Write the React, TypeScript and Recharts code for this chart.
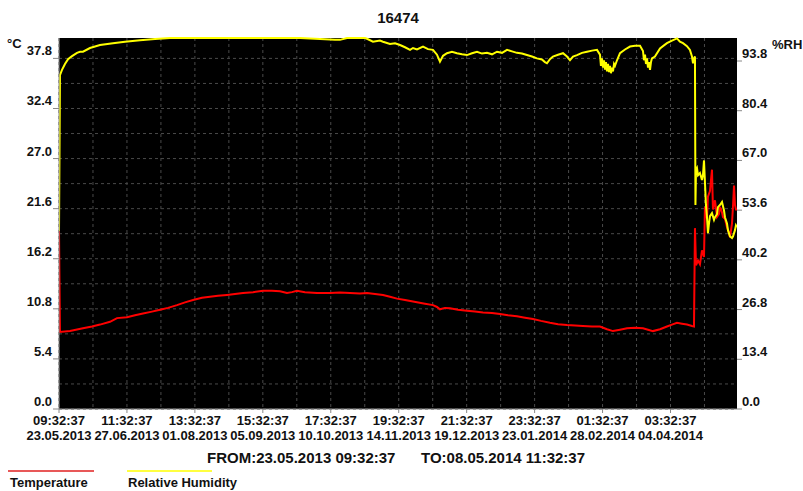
import React from "react";
import {
  CartesianGrid,
  Line,
  LineChart,
  XAxis,
  YAxis,
} from "recharts";

// hours since 23.05.2013 09:32:37
const START_MS = Date.UTC(2013, 4, 23, 9, 32, 37);
const END_HOURS = 8402;

const timeTicks = [0, 842, 1684, 2526, 3368, 4210, 5052, 5894, 6736, 7578];
const timeGrid = [
  0, 421, 842, 1263, 1684, 2105, 2526, 2947, 3368, 3789, 4210, 4631, 5052,
  5473, 5894, 6315, 6736, 7157, 7578, 7999,
];
const tempTicks = [0, 5.4, 10.8, 16.2, 21.6, 27.0, 32.4, 37.8];
const tempGrid = [
  0, 2.7, 5.4, 8.1, 10.8, 13.5, 16.2, 18.9, 21.6, 24.3, 27.0, 29.7, 32.4, 35.1,
  37.8,
];
const rhTicks = [0, 13.4, 26.8, 40.2, 53.6, 67.0, 80.4, 93.8];

const tempHours = [
  0, 12, 136, 297, 409, 508, 632, 719, 843, 942, 1041, 1152, 1252, 1351, 1462,
  1561, 1661, 1772, 1871, 1970, 2082, 2181, 2280, 2404, 2528, 2639, 2739, 2825,
  2887, 2949, 3048, 3197, 3358, 3482, 3606, 3730, 3817, 3916, 4015, 4102, 4189,
  4288, 4436, 4535, 4635, 4684, 4721, 4783, 4845, 4944, 5056, 5155, 5254, 5366,
  5465, 5564, 5675, 5775, 5874, 5973, 6084, 6184, 6295, 6394, 6493, 6605, 6704,
  6791, 6865, 6952, 7039, 7138, 7237, 7299, 7361, 7448, 7534, 7596, 7658, 7720,
  7782, 7844, 7869, 7881, 7894, 7919, 7943, 7968, 7993, 8005, 8030, 8042, 8067,
  8092, 8104, 8129, 8154, 8178, 8191, 8216, 8228, 8253, 8278, 8303, 8315, 8340,
  8352, 8365, 8377, 8389, 8402,
];
const tempC = [
  19.3, 8.3, 8.4, 8.7, 8.9, 9.1, 9.4, 9.8, 9.9, 10.1, 10.3, 10.5, 10.7, 10.9,
  11.2, 11.5, 11.75, 12.0, 12.1, 12.2, 12.3, 12.4, 12.5, 12.6, 12.75, 12.75,
  12.7, 12.5, 12.6, 12.75, 12.6, 12.5, 12.5, 12.55, 12.5, 12.45, 12.5, 12.4,
  12.3, 12.1, 11.9, 11.75, 11.5, 11.35, 11.2, 11.0, 10.75, 10.9, 10.85, 10.7,
  10.6, 10.5, 10.4, 10.35, 10.25, 10.1, 10.0, 9.85, 9.7, 9.5, 9.3, 9.15, 9.05,
  9.0, 8.95, 8.9, 8.9, 8.6, 8.4, 8.55, 8.7, 8.75, 8.7, 8.55, 8.4, 8.6, 8.9, 9.1,
  9.3, 9.2, 9.1, 8.95, 8.9, 19.5, 15.5, 16.0, 15.6, 17.1, 16.4, 21.8, 20.5,
  22.9, 23.5, 25.8, 21.5, 22.5, 20.7, 21.0, 21.8, 21.2, 20.7, 20.5, 19.6, 19.0,
  18.5, 20.0, 21.8, 24.1, 22.0, 21.5, 21.5,
];

const rhHours = [
  0, 12, 37, 74, 112, 161, 223, 260, 297, 384, 508, 669, 818, 1004, 1190, 1376,
  2986, 3420, 3482, 3569, 3792, 3817, 3891, 3978, 4015, 4102, 4164, 4226, 4288,
  4350, 4387, 4436, 4511, 4573, 4635, 4684, 4721, 4759, 4808, 4870, 4932, 4994,
  5056, 5118, 5180, 5242, 5304, 5366, 5428, 5490, 5552, 5614, 5675, 5737, 5799,
  5861, 5923, 5985, 6022, 6047, 6084, 6121, 6184, 6246, 6295, 6332, 6370, 6419,
  6481, 6543, 6605, 6667, 6704, 6716, 6729, 6741, 6754, 6766, 6778, 6791, 6803,
  6816, 6828, 6840, 6853, 6865, 6878, 6890, 6915, 6952, 7014, 7076, 7138, 7200,
  7237, 7249, 7262, 7274, 7287, 7299, 7311, 7324, 7336, 7348, 7385, 7448, 7497,
  7534, 7596, 7658, 7695, 7733, 7782, 7819, 7844, 7857, 7869, 7881, 7887, 7894,
  7906, 7919, 7943, 7968, 7980, 7993, 8005, 8017, 8030, 8042, 8055, 8067, 8092,
  8117, 8129, 8154, 8166, 8191, 8216, 8241, 8253, 8278, 8290, 8315, 8340, 8352,
  8377, 8389, 8402,
];
const rhPct = [
  48.0, 90.0, 91.4, 93.0, 94.3, 95.1, 96.0, 96.3, 96.3, 97.3, 98.1, 98.6, 99.0,
  99.4, 99.7, 100, 100, 99.5, 99.5, 100, 100, 99.8, 99.0, 99.3, 99.0, 98.4,
  98.6, 98.1, 97.5, 96.8, 97.3, 96.9, 97.7, 97.0, 96.8, 95.5, 93.6, 95.2, 95.9,
  96.3, 95.9, 95.6, 95.4, 95.9, 96.3, 95.8, 96.0, 95.6, 96.3, 96.0, 96.8, 96.4,
  96.0, 95.8, 95.4, 95.0, 94.5, 94.2, 93.5, 93.2, 94.3, 95.0, 95.5, 95.9, 95.0,
  94.0, 95.0, 95.4, 96.0, 96.3, 96.6, 96.8, 95.5, 92.5, 94.5, 92.0, 94.0, 91.5,
  93.5, 91.0, 93.0, 90.8, 92.5, 90.5, 92.0, 91.0, 93.0, 92.5, 94.0, 95.9, 96.9,
  97.7, 97.9, 97.9, 96.5, 94.0, 95.5, 93.0, 94.5, 92.0, 93.5, 91.4, 93.5, 94.5,
  95.0, 97.2, 98.0, 98.6, 99.3, 99.9, 99.0, 98.6, 97.8, 96.8, 95.0, 93.2, 94.5,
  95.0, 55.0, 64.5, 65.0, 63.0, 63.6, 61.7, 63.0, 67.0, 61.0, 55.0, 51.7, 47.4,
  50.0, 52.0, 52.8, 51.0, 51.7, 52.5, 54.4, 55.0, 55.8, 53.5, 51.7, 50.0, 48.2,
  46.5, 46.1, 46.5, 48.2, 49.5, 49.0,
];

const tempData = tempHours.map((h, i) => ({ h, v: tempC[i] }));
const rhData = rhHours.map((h, i) => ({ h, v: rhPct[i] }));

const FONT = "'Liberation Sans', Arial, sans-serif";
const INK = "#111";

const pad = (n: number) => String(n).padStart(2, "0");
function timeParts(h: number) {
  const d = new Date(START_MS + h * 3600000);
  return [
    `${pad(d.getUTCHours())}:${pad(d.getUTCMinutes())}:${pad(d.getUTCSeconds())}`,
    `${pad(d.getUTCDate())}.${pad(d.getUTCMonth() + 1)}.${d.getUTCFullYear()}`,
  ];
}

const TimeTick = (props: any) => {
  const { x, y, payload } = props;
  const [t, d] = timeParts(payload.value);
  return (
    <text textAnchor="middle" fontFamily={FONT} fontWeight="bold" fontSize={13} fill={INK}>
      <tspan x={x} y={y + 12}>{t}</tspan>
      <tspan x={x} y={y + 27}>{d}</tspan>
    </text>
  );
};

const LeftTick = (props: any) => {
  const { x, y, payload } = props;
  return (
    <text x={x - 1} y={y - 3} textAnchor="end" fontFamily={FONT} fontWeight="bold" fontSize={13} fill={INK}>
      {Number(payload.value).toFixed(1)}
    </text>
  );
};

const RightTick = (props: any) => {
  const { x, y, payload } = props;
  return (
    <text x={x} y={y - 3} textAnchor="start" fontFamily={FONT} fontWeight="bold" fontSize={13} fill={INK}>
      {Number(payload.value).toFixed(1)}
    </text>
  );
};

export default function App() {
  const [from0, from1] = timeParts(0);
  const [to0, to1] = timeParts(END_HOURS);
  return (
    <div style={{ position: "absolute", left: 0, top: 0, width: 803, height: 491, background: "#fff" }}>
      <LineChart width={803} height={491} margin={{ top: 38, right: 0, bottom: 0, left: 0 }}>
        <CartesianGrid
          xAxisId="t"
          yAxisId="temp"
          fill="#000"
          fillOpacity={1}
          stroke="#4a4a4a"
          strokeDasharray="3 3"
          horizontalValues={tempGrid}
          verticalValues={timeGrid}
        />
        <XAxis
          xAxisId="t"
          type="number"
          dataKey="h"
          domain={[0, END_HOURS]}
          ticks={timeTicks}
          height={82}
          tickSize={4}
          tickMargin={0}
          stroke="#888"
          tick={<TimeTick />}
          interval={0}
          allowDataOverflow
        />
        <YAxis
          yAxisId="temp"
          orientation="left"
          width={59}
          domain={[0, 40]}
          ticks={tempTicks}
          tickSize={6}
          tickMargin={0}
          stroke="#888"
          tick={<LeftTick />}
          interval={0}
        />
        <YAxis
          yAxisId="rh"
          orientation="right"
          width={66}
          domain={[0, 100]}
          ticks={rhTicks}
          tickSize={5}
          tickMargin={0}
          axisLine={false}
          tickLine={{ stroke: "#888" }}
          tick={<RightTick />}
          interval={0}
        />
        <Line
          xAxisId="t"
          yAxisId="temp"
          data={tempData}
          dataKey="v"
          name="Temperature"
          type="linear"
          stroke="#ff0000"
          strokeWidth={2}
          dot={false}
          isAnimationActive={false}
        />
        <Line
          xAxisId="t"
          yAxisId="rh"
          data={rhData}
          dataKey="v"
          name="Relative Humidity"
          type="linear"
          stroke="#ffff00"
          strokeWidth={2}
          dot={false}
          isAnimationActive={false}
        />
      </LineChart>
      <svg
        width={803}
        height={491}
        style={{ position: "absolute", left: 0, top: 0, pointerEvents: "none" }}
        fontFamily={FONT}
        fontWeight="bold"
        fill={INK}
      >
        <text x={398} y={23} textAnchor="middle" fontSize={15}>16474</text>
        <text x={7} y={48} fontSize={13}>°C</text>
        <text x={772} y={49} fontSize={13}>%RH</text>
        <text x={207} y={463} fontSize={15}>{`FROM:${from1} ${from0}`}</text>
        <text x={421} y={463} fontSize={15}>{`TO:${to1} ${to0}`}</text>
        <line x1={8} x2={94} y1={471} y2={471} stroke="#e02020" strokeWidth={1.5} />
        <text x={10} y={487} fontSize={13}>Temperature</text>
        <line x1={127} x2={212} y1={471} y2={471} stroke="#ffff00" strokeWidth={1.5} />
        <text x={128} y={487} fontSize={13}>Relative Humidity</text>
      </svg>
    </div>
  );
}
